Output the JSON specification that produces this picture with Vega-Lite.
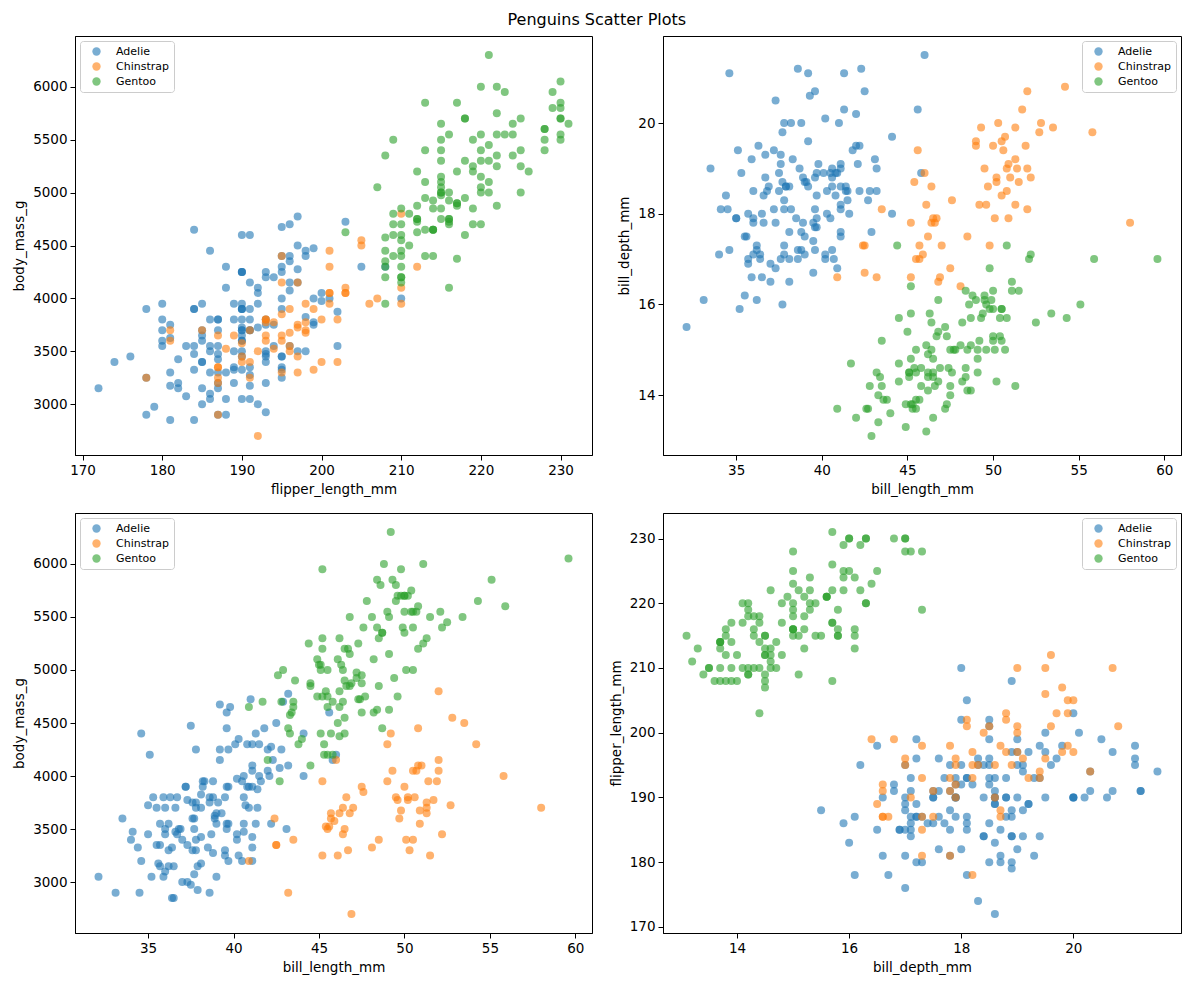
{
  "$schema": "https://vega.github.io/schema/vega-lite/v6.json",
  "background": "white",
  "padding": {"left": 12, "top": 11, "right": 2, "bottom": 2},
  "title": {"text": "Penguins Scatter Plots", "anchor": "middle", "fontSize": 16, "fontWeight": "normal", "font": "DejaVu Sans", "color": "black", "offset": 8},
  "datasets": {
    "penguins": [
      {"species":"Adelie","bill_length_mm":39.1,"bill_depth_mm":18.7,"flipper_length_mm":181,"body_mass_g":3750},
      {"species":"Adelie","bill_length_mm":39.5,"bill_depth_mm":17.4,"flipper_length_mm":186,"body_mass_g":3800},
      {"species":"Adelie","bill_length_mm":40.3,"bill_depth_mm":18.0,"flipper_length_mm":195,"body_mass_g":3250},
      {"species":"Adelie","bill_length_mm":36.7,"bill_depth_mm":19.3,"flipper_length_mm":193,"body_mass_g":3450},
      {"species":"Adelie","bill_length_mm":39.3,"bill_depth_mm":20.6,"flipper_length_mm":190,"body_mass_g":3650},
      {"species":"Adelie","bill_length_mm":38.9,"bill_depth_mm":17.8,"flipper_length_mm":181,"body_mass_g":3625},
      {"species":"Adelie","bill_length_mm":39.2,"bill_depth_mm":19.6,"flipper_length_mm":195,"body_mass_g":4675},
      {"species":"Adelie","bill_length_mm":34.1,"bill_depth_mm":18.1,"flipper_length_mm":193,"body_mass_g":3475},
      {"species":"Adelie","bill_length_mm":42.0,"bill_depth_mm":20.2,"flipper_length_mm":190,"body_mass_g":4250},
      {"species":"Adelie","bill_length_mm":37.8,"bill_depth_mm":17.1,"flipper_length_mm":186,"body_mass_g":3300},
      {"species":"Adelie","bill_length_mm":37.8,"bill_depth_mm":17.3,"flipper_length_mm":180,"body_mass_g":3700},
      {"species":"Adelie","bill_length_mm":41.1,"bill_depth_mm":17.6,"flipper_length_mm":182,"body_mass_g":3200},
      {"species":"Adelie","bill_length_mm":38.6,"bill_depth_mm":21.2,"flipper_length_mm":191,"body_mass_g":3800},
      {"species":"Adelie","bill_length_mm":34.6,"bill_depth_mm":21.1,"flipper_length_mm":198,"body_mass_g":4400},
      {"species":"Adelie","bill_length_mm":36.6,"bill_depth_mm":17.8,"flipper_length_mm":185,"body_mass_g":3700},
      {"species":"Adelie","bill_length_mm":38.7,"bill_depth_mm":19.0,"flipper_length_mm":195,"body_mass_g":3450},
      {"species":"Adelie","bill_length_mm":42.5,"bill_depth_mm":20.7,"flipper_length_mm":197,"body_mass_g":4500},
      {"species":"Adelie","bill_length_mm":34.4,"bill_depth_mm":18.4,"flipper_length_mm":184,"body_mass_g":3325},
      {"species":"Adelie","bill_length_mm":46.0,"bill_depth_mm":21.5,"flipper_length_mm":194,"body_mass_g":4200},
      {"species":"Adelie","bill_length_mm":37.8,"bill_depth_mm":18.3,"flipper_length_mm":174,"body_mass_g":3400},
      {"species":"Adelie","bill_length_mm":37.7,"bill_depth_mm":18.7,"flipper_length_mm":180,"body_mass_g":3600},
      {"species":"Adelie","bill_length_mm":35.9,"bill_depth_mm":19.2,"flipper_length_mm":189,"body_mass_g":3800},
      {"species":"Adelie","bill_length_mm":38.2,"bill_depth_mm":18.1,"flipper_length_mm":185,"body_mass_g":3950},
      {"species":"Adelie","bill_length_mm":38.8,"bill_depth_mm":17.2,"flipper_length_mm":180,"body_mass_g":3800},
      {"species":"Adelie","bill_length_mm":35.3,"bill_depth_mm":18.9,"flipper_length_mm":187,"body_mass_g":3800},
      {"species":"Adelie","bill_length_mm":40.6,"bill_depth_mm":18.6,"flipper_length_mm":183,"body_mass_g":3550},
      {"species":"Adelie","bill_length_mm":40.5,"bill_depth_mm":17.9,"flipper_length_mm":187,"body_mass_g":3200},
      {"species":"Adelie","bill_length_mm":37.9,"bill_depth_mm":18.6,"flipper_length_mm":172,"body_mass_g":3150},
      {"species":"Adelie","bill_length_mm":40.5,"bill_depth_mm":18.9,"flipper_length_mm":180,"body_mass_g":3950},
      {"species":"Adelie","bill_length_mm":39.5,"bill_depth_mm":16.7,"flipper_length_mm":178,"body_mass_g":3250},
      {"species":"Adelie","bill_length_mm":37.2,"bill_depth_mm":18.1,"flipper_length_mm":178,"body_mass_g":3900},
      {"species":"Adelie","bill_length_mm":39.5,"bill_depth_mm":17.8,"flipper_length_mm":188,"body_mass_g":3300},
      {"species":"Adelie","bill_length_mm":40.9,"bill_depth_mm":18.9,"flipper_length_mm":184,"body_mass_g":3900},
      {"species":"Adelie","bill_length_mm":36.4,"bill_depth_mm":17.0,"flipper_length_mm":195,"body_mass_g":3325},
      {"species":"Adelie","bill_length_mm":39.2,"bill_depth_mm":21.1,"flipper_length_mm":196,"body_mass_g":4150},
      {"species":"Adelie","bill_length_mm":38.8,"bill_depth_mm":20.0,"flipper_length_mm":190,"body_mass_g":3950},
      {"species":"Adelie","bill_length_mm":42.2,"bill_depth_mm":18.5,"flipper_length_mm":180,"body_mass_g":3550},
      {"species":"Adelie","bill_length_mm":37.6,"bill_depth_mm":19.3,"flipper_length_mm":181,"body_mass_g":3300},
      {"species":"Adelie","bill_length_mm":39.8,"bill_depth_mm":19.1,"flipper_length_mm":184,"body_mass_g":4650},
      {"species":"Adelie","bill_length_mm":36.5,"bill_depth_mm":18.0,"flipper_length_mm":182,"body_mass_g":3150},
      {"species":"Adelie","bill_length_mm":40.8,"bill_depth_mm":18.4,"flipper_length_mm":195,"body_mass_g":3900},
      {"species":"Adelie","bill_length_mm":36.0,"bill_depth_mm":18.5,"flipper_length_mm":186,"body_mass_g":3100},
      {"species":"Adelie","bill_length_mm":44.1,"bill_depth_mm":19.7,"flipper_length_mm":196,"body_mass_g":4400},
      {"species":"Adelie","bill_length_mm":37.0,"bill_depth_mm":16.9,"flipper_length_mm":185,"body_mass_g":3000},
      {"species":"Adelie","bill_length_mm":39.6,"bill_depth_mm":18.8,"flipper_length_mm":190,"body_mass_g":4600},
      {"species":"Adelie","bill_length_mm":41.1,"bill_depth_mm":19.0,"flipper_length_mm":182,"body_mass_g":3425},
      {"species":"Adelie","bill_length_mm":37.5,"bill_depth_mm":18.9,"flipper_length_mm":179,"body_mass_g":2975},
      {"species":"Adelie","bill_length_mm":36.0,"bill_depth_mm":17.9,"flipper_length_mm":190,"body_mass_g":3500},
      {"species":"Adelie","bill_length_mm":42.3,"bill_depth_mm":21.2,"flipper_length_mm":191,"body_mass_g":4150},
      {"species":"Adelie","bill_length_mm":39.6,"bill_depth_mm":17.7,"flipper_length_mm":186,"body_mass_g":3500},
      {"species":"Adelie","bill_length_mm":40.1,"bill_depth_mm":18.9,"flipper_length_mm":188,"body_mass_g":4300},
      {"species":"Adelie","bill_length_mm":35.0,"bill_depth_mm":17.9,"flipper_length_mm":190,"body_mass_g":3450},
      {"species":"Adelie","bill_length_mm":42.0,"bill_depth_mm":19.5,"flipper_length_mm":200,"body_mass_g":4050},
      {"species":"Adelie","bill_length_mm":34.5,"bill_depth_mm":18.1,"flipper_length_mm":187,"body_mass_g":2900},
      {"species":"Adelie","bill_length_mm":41.4,"bill_depth_mm":18.6,"flipper_length_mm":191,"body_mass_g":3700},
      {"species":"Adelie","bill_length_mm":39.0,"bill_depth_mm":17.5,"flipper_length_mm":186,"body_mass_g":3550},
      {"species":"Adelie","bill_length_mm":40.6,"bill_depth_mm":18.8,"flipper_length_mm":193,"body_mass_g":3800},
      {"species":"Adelie","bill_length_mm":36.5,"bill_depth_mm":16.6,"flipper_length_mm":181,"body_mass_g":2850},
      {"species":"Adelie","bill_length_mm":37.6,"bill_depth_mm":19.1,"flipper_length_mm":194,"body_mass_g":3750},
      {"species":"Adelie","bill_length_mm":35.7,"bill_depth_mm":16.9,"flipper_length_mm":185,"body_mass_g":3150},
      {"species":"Adelie","bill_length_mm":41.3,"bill_depth_mm":21.1,"flipper_length_mm":195,"body_mass_g":4400},
      {"species":"Adelie","bill_length_mm":37.6,"bill_depth_mm":17.0,"flipper_length_mm":185,"body_mass_g":3600},
      {"species":"Adelie","bill_length_mm":41.1,"bill_depth_mm":18.2,"flipper_length_mm":192,"body_mass_g":4050},
      {"species":"Adelie","bill_length_mm":36.4,"bill_depth_mm":17.1,"flipper_length_mm":184,"body_mass_g":2850},
      {"species":"Adelie","bill_length_mm":41.6,"bill_depth_mm":18.0,"flipper_length_mm":192,"body_mass_g":3950},
      {"species":"Adelie","bill_length_mm":35.5,"bill_depth_mm":16.2,"flipper_length_mm":195,"body_mass_g":3350},
      {"species":"Adelie","bill_length_mm":41.1,"bill_depth_mm":19.1,"flipper_length_mm":188,"body_mass_g":4100},
      {"species":"Adelie","bill_length_mm":35.9,"bill_depth_mm":16.6,"flipper_length_mm":190,"body_mass_g":3050},
      {"species":"Adelie","bill_length_mm":41.8,"bill_depth_mm":19.4,"flipper_length_mm":198,"body_mass_g":4450},
      {"species":"Adelie","bill_length_mm":33.5,"bill_depth_mm":19.0,"flipper_length_mm":190,"body_mass_g":3600},
      {"species":"Adelie","bill_length_mm":39.7,"bill_depth_mm":18.4,"flipper_length_mm":190,"body_mass_g":3900},
      {"species":"Adelie","bill_length_mm":39.6,"bill_depth_mm":17.2,"flipper_length_mm":196,"body_mass_g":3550},
      {"species":"Adelie","bill_length_mm":45.8,"bill_depth_mm":18.9,"flipper_length_mm":197,"body_mass_g":4150},
      {"species":"Adelie","bill_length_mm":35.5,"bill_depth_mm":17.5,"flipper_length_mm":190,"body_mass_g":3700},
      {"species":"Adelie","bill_length_mm":42.8,"bill_depth_mm":18.5,"flipper_length_mm":195,"body_mass_g":4250},
      {"species":"Adelie","bill_length_mm":40.9,"bill_depth_mm":16.8,"flipper_length_mm":191,"body_mass_g":3700},
      {"species":"Adelie","bill_length_mm":37.2,"bill_depth_mm":19.4,"flipper_length_mm":184,"body_mass_g":3900},
      {"species":"Adelie","bill_length_mm":36.2,"bill_depth_mm":16.1,"flipper_length_mm":187,"body_mass_g":3550},
      {"species":"Adelie","bill_length_mm":42.1,"bill_depth_mm":19.1,"flipper_length_mm":195,"body_mass_g":4000},
      {"species":"Adelie","bill_length_mm":34.6,"bill_depth_mm":17.2,"flipper_length_mm":189,"body_mass_g":3200},
      {"species":"Adelie","bill_length_mm":42.9,"bill_depth_mm":17.6,"flipper_length_mm":196,"body_mass_g":4700},
      {"species":"Adelie","bill_length_mm":36.7,"bill_depth_mm":18.8,"flipper_length_mm":187,"body_mass_g":3800},
      {"species":"Adelie","bill_length_mm":35.1,"bill_depth_mm":19.4,"flipper_length_mm":193,"body_mass_g":4200},
      {"species":"Adelie","bill_length_mm":37.3,"bill_depth_mm":17.8,"flipper_length_mm":191,"body_mass_g":3350},
      {"species":"Adelie","bill_length_mm":41.3,"bill_depth_mm":20.3,"flipper_length_mm":194,"body_mass_g":3550},
      {"species":"Adelie","bill_length_mm":36.3,"bill_depth_mm":19.5,"flipper_length_mm":190,"body_mass_g":3800},
      {"species":"Adelie","bill_length_mm":36.9,"bill_depth_mm":18.6,"flipper_length_mm":189,"body_mass_g":3500},
      {"species":"Adelie","bill_length_mm":38.3,"bill_depth_mm":19.2,"flipper_length_mm":189,"body_mass_g":3950},
      {"species":"Adelie","bill_length_mm":38.9,"bill_depth_mm":18.8,"flipper_length_mm":190,"body_mass_g":3600},
      {"species":"Adelie","bill_length_mm":35.7,"bill_depth_mm":18.0,"flipper_length_mm":202,"body_mass_g":3550},
      {"species":"Adelie","bill_length_mm":41.1,"bill_depth_mm":18.1,"flipper_length_mm":205,"body_mass_g":4300},
      {"species":"Adelie","bill_length_mm":34.0,"bill_depth_mm":17.1,"flipper_length_mm":185,"body_mass_g":3400},
      {"species":"Adelie","bill_length_mm":39.6,"bill_depth_mm":18.1,"flipper_length_mm":186,"body_mass_g":4450},
      {"species":"Adelie","bill_length_mm":36.2,"bill_depth_mm":17.3,"flipper_length_mm":187,"body_mass_g":3300},
      {"species":"Adelie","bill_length_mm":40.8,"bill_depth_mm":18.9,"flipper_length_mm":208,"body_mass_g":4300},
      {"species":"Adelie","bill_length_mm":38.1,"bill_depth_mm":18.6,"flipper_length_mm":190,"body_mass_g":3700},
      {"species":"Adelie","bill_length_mm":40.3,"bill_depth_mm":18.5,"flipper_length_mm":196,"body_mass_g":4350},
      {"species":"Adelie","bill_length_mm":33.1,"bill_depth_mm":16.1,"flipper_length_mm":178,"body_mass_g":2900},
      {"species":"Adelie","bill_length_mm":43.2,"bill_depth_mm":18.5,"flipper_length_mm":192,"body_mass_g":4100},
      {"species":"Adelie","bill_length_mm":35.0,"bill_depth_mm":17.9,"flipper_length_mm":192,"body_mass_g":3725},
      {"species":"Adelie","bill_length_mm":41.0,"bill_depth_mm":20.0,"flipper_length_mm":203,"body_mass_g":4725},
      {"species":"Adelie","bill_length_mm":37.7,"bill_depth_mm":16.0,"flipper_length_mm":183,"body_mass_g":3075},
      {"species":"Adelie","bill_length_mm":37.8,"bill_depth_mm":20.0,"flipper_length_mm":190,"body_mass_g":4250},
      {"species":"Adelie","bill_length_mm":37.9,"bill_depth_mm":18.6,"flipper_length_mm":193,"body_mass_g":2925},
      {"species":"Adelie","bill_length_mm":39.7,"bill_depth_mm":18.9,"flipper_length_mm":184,"body_mass_g":3550},
      {"species":"Adelie","bill_length_mm":38.6,"bill_depth_mm":17.2,"flipper_length_mm":199,"body_mass_g":3750},
      {"species":"Adelie","bill_length_mm":38.2,"bill_depth_mm":20.0,"flipper_length_mm":190,"body_mass_g":3900},
      {"species":"Adelie","bill_length_mm":38.1,"bill_depth_mm":17.0,"flipper_length_mm":181,"body_mass_g":3175},
      {"species":"Adelie","bill_length_mm":43.2,"bill_depth_mm":19.0,"flipper_length_mm":197,"body_mass_g":4775},
      {"species":"Adelie","bill_length_mm":38.1,"bill_depth_mm":16.5,"flipper_length_mm":198,"body_mass_g":3825},
      {"species":"Adelie","bill_length_mm":45.6,"bill_depth_mm":20.3,"flipper_length_mm":191,"body_mass_g":4600},
      {"species":"Adelie","bill_length_mm":39.7,"bill_depth_mm":17.7,"flipper_length_mm":193,"body_mass_g":3200},
      {"species":"Adelie","bill_length_mm":42.2,"bill_depth_mm":19.5,"flipper_length_mm":197,"body_mass_g":4275},
      {"species":"Adelie","bill_length_mm":39.6,"bill_depth_mm":20.7,"flipper_length_mm":191,"body_mass_g":3900},
      {"species":"Adelie","bill_length_mm":42.7,"bill_depth_mm":18.3,"flipper_length_mm":196,"body_mass_g":4075},
      {"species":"Adelie","bill_length_mm":38.6,"bill_depth_mm":17.0,"flipper_length_mm":188,"body_mass_g":2900},
      {"species":"Adelie","bill_length_mm":37.3,"bill_depth_mm":20.5,"flipper_length_mm":199,"body_mass_g":3775},
      {"species":"Adelie","bill_length_mm":35.7,"bill_depth_mm":17.0,"flipper_length_mm":189,"body_mass_g":3350},
      {"species":"Adelie","bill_length_mm":41.1,"bill_depth_mm":18.6,"flipper_length_mm":189,"body_mass_g":3325},
      {"species":"Adelie","bill_length_mm":36.2,"bill_depth_mm":17.2,"flipper_length_mm":187,"body_mass_g":3150},
      {"species":"Adelie","bill_length_mm":37.7,"bill_depth_mm":19.8,"flipper_length_mm":198,"body_mass_g":3500},
      {"species":"Adelie","bill_length_mm":40.2,"bill_depth_mm":17.0,"flipper_length_mm":176,"body_mass_g":3450},
      {"species":"Adelie","bill_length_mm":41.4,"bill_depth_mm":18.5,"flipper_length_mm":202,"body_mass_g":3875},
      {"species":"Adelie","bill_length_mm":35.2,"bill_depth_mm":15.9,"flipper_length_mm":186,"body_mass_g":3050},
      {"species":"Adelie","bill_length_mm":40.6,"bill_depth_mm":19.0,"flipper_length_mm":199,"body_mass_g":4000},
      {"species":"Adelie","bill_length_mm":38.8,"bill_depth_mm":17.6,"flipper_length_mm":191,"body_mass_g":3275},
      {"species":"Adelie","bill_length_mm":41.5,"bill_depth_mm":18.3,"flipper_length_mm":195,"body_mass_g":4300},
      {"species":"Adelie","bill_length_mm":39.0,"bill_depth_mm":17.1,"flipper_length_mm":191,"body_mass_g":3050},
      {"species":"Adelie","bill_length_mm":44.1,"bill_depth_mm":18.0,"flipper_length_mm":210,"body_mass_g":4000},
      {"species":"Adelie","bill_length_mm":38.5,"bill_depth_mm":17.9,"flipper_length_mm":190,"body_mass_g":3325},
      {"species":"Adelie","bill_length_mm":43.1,"bill_depth_mm":19.2,"flipper_length_mm":197,"body_mass_g":3500},
      {"species":"Adelie","bill_length_mm":36.8,"bill_depth_mm":18.5,"flipper_length_mm":193,"body_mass_g":3500},
      {"species":"Adelie","bill_length_mm":37.5,"bill_depth_mm":18.5,"flipper_length_mm":199,"body_mass_g":4475},
      {"species":"Adelie","bill_length_mm":38.1,"bill_depth_mm":17.6,"flipper_length_mm":187,"body_mass_g":3425},
      {"species":"Adelie","bill_length_mm":41.1,"bill_depth_mm":17.5,"flipper_length_mm":190,"body_mass_g":3900},
      {"species":"Adelie","bill_length_mm":35.6,"bill_depth_mm":17.5,"flipper_length_mm":191,"body_mass_g":3175},
      {"species":"Adelie","bill_length_mm":40.2,"bill_depth_mm":20.1,"flipper_length_mm":200,"body_mass_g":3975},
      {"species":"Adelie","bill_length_mm":37.0,"bill_depth_mm":16.5,"flipper_length_mm":185,"body_mass_g":3400},
      {"species":"Adelie","bill_length_mm":39.7,"bill_depth_mm":17.9,"flipper_length_mm":193,"body_mass_g":4250},
      {"species":"Adelie","bill_length_mm":40.2,"bill_depth_mm":17.1,"flipper_length_mm":193,"body_mass_g":3400},
      {"species":"Adelie","bill_length_mm":40.6,"bill_depth_mm":17.2,"flipper_length_mm":187,"body_mass_g":3475},
      {"species":"Adelie","bill_length_mm":32.1,"bill_depth_mm":15.5,"flipper_length_mm":188,"body_mass_g":3050},
      {"species":"Adelie","bill_length_mm":40.7,"bill_depth_mm":17.0,"flipper_length_mm":190,"body_mass_g":3725},
      {"species":"Adelie","bill_length_mm":37.3,"bill_depth_mm":16.8,"flipper_length_mm":192,"body_mass_g":3000},
      {"species":"Adelie","bill_length_mm":39.0,"bill_depth_mm":18.7,"flipper_length_mm":185,"body_mass_g":3650},
      {"species":"Adelie","bill_length_mm":39.2,"bill_depth_mm":18.6,"flipper_length_mm":190,"body_mass_g":4250},
      {"species":"Adelie","bill_length_mm":36.6,"bill_depth_mm":18.4,"flipper_length_mm":184,"body_mass_g":3475},
      {"species":"Adelie","bill_length_mm":36.0,"bill_depth_mm":17.8,"flipper_length_mm":195,"body_mass_g":3450},
      {"species":"Adelie","bill_length_mm":37.8,"bill_depth_mm":18.1,"flipper_length_mm":193,"body_mass_g":3750},
      {"species":"Adelie","bill_length_mm":36.0,"bill_depth_mm":17.1,"flipper_length_mm":187,"body_mass_g":3700},
      {"species":"Adelie","bill_length_mm":41.5,"bill_depth_mm":18.5,"flipper_length_mm":201,"body_mass_g":4000},
      {"species":"Chinstrap","bill_length_mm":46.5,"bill_depth_mm":17.9,"flipper_length_mm":192,"body_mass_g":3500},
      {"species":"Chinstrap","bill_length_mm":50.0,"bill_depth_mm":19.5,"flipper_length_mm":196,"body_mass_g":3900},
      {"species":"Chinstrap","bill_length_mm":51.3,"bill_depth_mm":19.2,"flipper_length_mm":193,"body_mass_g":3650},
      {"species":"Chinstrap","bill_length_mm":45.4,"bill_depth_mm":18.7,"flipper_length_mm":188,"body_mass_g":3525},
      {"species":"Chinstrap","bill_length_mm":52.7,"bill_depth_mm":19.8,"flipper_length_mm":197,"body_mass_g":3725},
      {"species":"Chinstrap","bill_length_mm":45.2,"bill_depth_mm":17.8,"flipper_length_mm":198,"body_mass_g":3950},
      {"species":"Chinstrap","bill_length_mm":46.1,"bill_depth_mm":18.2,"flipper_length_mm":178,"body_mass_g":3250},
      {"species":"Chinstrap","bill_length_mm":51.3,"bill_depth_mm":18.2,"flipper_length_mm":197,"body_mass_g":3750},
      {"species":"Chinstrap","bill_length_mm":46.0,"bill_depth_mm":18.9,"flipper_length_mm":195,"body_mass_g":4150},
      {"species":"Chinstrap","bill_length_mm":51.3,"bill_depth_mm":19.9,"flipper_length_mm":198,"body_mass_g":3700},
      {"species":"Chinstrap","bill_length_mm":46.6,"bill_depth_mm":17.8,"flipper_length_mm":193,"body_mass_g":3800},
      {"species":"Chinstrap","bill_length_mm":51.7,"bill_depth_mm":20.3,"flipper_length_mm":194,"body_mass_g":3775},
      {"species":"Chinstrap","bill_length_mm":47.0,"bill_depth_mm":17.3,"flipper_length_mm":185,"body_mass_g":3700},
      {"species":"Chinstrap","bill_length_mm":52.0,"bill_depth_mm":18.1,"flipper_length_mm":201,"body_mass_g":4050},
      {"species":"Chinstrap","bill_length_mm":45.9,"bill_depth_mm":17.1,"flipper_length_mm":190,"body_mass_g":3575},
      {"species":"Chinstrap","bill_length_mm":50.5,"bill_depth_mm":19.6,"flipper_length_mm":201,"body_mass_g":4050},
      {"species":"Chinstrap","bill_length_mm":50.3,"bill_depth_mm":20.0,"flipper_length_mm":197,"body_mass_g":3300},
      {"species":"Chinstrap","bill_length_mm":58.0,"bill_depth_mm":17.8,"flipper_length_mm":181,"body_mass_g":3700},
      {"species":"Chinstrap","bill_length_mm":46.4,"bill_depth_mm":18.6,"flipper_length_mm":190,"body_mass_g":3450},
      {"species":"Chinstrap","bill_length_mm":49.2,"bill_depth_mm":18.2,"flipper_length_mm":195,"body_mass_g":4400},
      {"species":"Chinstrap","bill_length_mm":42.4,"bill_depth_mm":17.3,"flipper_length_mm":181,"body_mass_g":3600},
      {"species":"Chinstrap","bill_length_mm":48.5,"bill_depth_mm":17.5,"flipper_length_mm":191,"body_mass_g":3400},
      {"species":"Chinstrap","bill_length_mm":43.2,"bill_depth_mm":16.6,"flipper_length_mm":187,"body_mass_g":2900},
      {"species":"Chinstrap","bill_length_mm":50.6,"bill_depth_mm":19.4,"flipper_length_mm":193,"body_mass_g":3800},
      {"species":"Chinstrap","bill_length_mm":46.7,"bill_depth_mm":17.9,"flipper_length_mm":195,"body_mass_g":3300},
      {"species":"Chinstrap","bill_length_mm":52.0,"bill_depth_mm":19.0,"flipper_length_mm":197,"body_mass_g":4150},
      {"species":"Chinstrap","bill_length_mm":50.5,"bill_depth_mm":18.4,"flipper_length_mm":200,"body_mass_g":3400},
      {"species":"Chinstrap","bill_length_mm":49.5,"bill_depth_mm":19.0,"flipper_length_mm":200,"body_mass_g":3800},
      {"species":"Chinstrap","bill_length_mm":46.4,"bill_depth_mm":17.8,"flipper_length_mm":191,"body_mass_g":3700},
      {"species":"Chinstrap","bill_length_mm":52.8,"bill_depth_mm":20.0,"flipper_length_mm":205,"body_mass_g":4550},
      {"species":"Chinstrap","bill_length_mm":40.9,"bill_depth_mm":16.6,"flipper_length_mm":187,"body_mass_g":3200},
      {"species":"Chinstrap","bill_length_mm":54.2,"bill_depth_mm":20.8,"flipper_length_mm":201,"body_mass_g":4300},
      {"species":"Chinstrap","bill_length_mm":42.5,"bill_depth_mm":16.7,"flipper_length_mm":187,"body_mass_g":3350},
      {"species":"Chinstrap","bill_length_mm":51.0,"bill_depth_mm":18.8,"flipper_length_mm":203,"body_mass_g":4100},
      {"species":"Chinstrap","bill_length_mm":49.7,"bill_depth_mm":18.6,"flipper_length_mm":195,"body_mass_g":3600},
      {"species":"Chinstrap","bill_length_mm":47.5,"bill_depth_mm":16.8,"flipper_length_mm":199,"body_mass_g":3900},
      {"species":"Chinstrap","bill_length_mm":47.6,"bill_depth_mm":18.3,"flipper_length_mm":195,"body_mass_g":3850},
      {"species":"Chinstrap","bill_length_mm":52.0,"bill_depth_mm":20.7,"flipper_length_mm":210,"body_mass_g":4800},
      {"species":"Chinstrap","bill_length_mm":46.9,"bill_depth_mm":16.6,"flipper_length_mm":192,"body_mass_g":2700},
      {"species":"Chinstrap","bill_length_mm":53.5,"bill_depth_mm":19.9,"flipper_length_mm":205,"body_mass_g":4500},
      {"species":"Chinstrap","bill_length_mm":49.0,"bill_depth_mm":19.5,"flipper_length_mm":210,"body_mass_g":3950},
      {"species":"Chinstrap","bill_length_mm":46.2,"bill_depth_mm":17.5,"flipper_length_mm":187,"body_mass_g":3650},
      {"species":"Chinstrap","bill_length_mm":50.9,"bill_depth_mm":19.1,"flipper_length_mm":196,"body_mass_g":3550},
      {"species":"Chinstrap","bill_length_mm":45.5,"bill_depth_mm":17.0,"flipper_length_mm":196,"body_mass_g":3500},
      {"species":"Chinstrap","bill_length_mm":50.9,"bill_depth_mm":17.9,"flipper_length_mm":196,"body_mass_g":3675},
      {"species":"Chinstrap","bill_length_mm":50.8,"bill_depth_mm":18.5,"flipper_length_mm":201,"body_mass_g":4450},
      {"species":"Chinstrap","bill_length_mm":50.1,"bill_depth_mm":17.9,"flipper_length_mm":190,"body_mass_g":3400},
      {"species":"Chinstrap","bill_length_mm":49.0,"bill_depth_mm":19.6,"flipper_length_mm":212,"body_mass_g":4300},
      {"species":"Chinstrap","bill_length_mm":51.5,"bill_depth_mm":18.7,"flipper_length_mm":187,"body_mass_g":3250},
      {"species":"Chinstrap","bill_length_mm":49.8,"bill_depth_mm":17.3,"flipper_length_mm":198,"body_mass_g":3675},
      {"species":"Chinstrap","bill_length_mm":48.1,"bill_depth_mm":16.4,"flipper_length_mm":199,"body_mass_g":3325},
      {"species":"Chinstrap","bill_length_mm":51.4,"bill_depth_mm":19.0,"flipper_length_mm":201,"body_mass_g":3950},
      {"species":"Chinstrap","bill_length_mm":45.7,"bill_depth_mm":17.3,"flipper_length_mm":193,"body_mass_g":3600},
      {"species":"Chinstrap","bill_length_mm":50.7,"bill_depth_mm":19.7,"flipper_length_mm":203,"body_mass_g":4050},
      {"species":"Chinstrap","bill_length_mm":42.5,"bill_depth_mm":17.3,"flipper_length_mm":187,"body_mass_g":3350},
      {"species":"Chinstrap","bill_length_mm":52.2,"bill_depth_mm":18.8,"flipper_length_mm":197,"body_mass_g":3450},
      {"species":"Chinstrap","bill_length_mm":45.2,"bill_depth_mm":16.6,"flipper_length_mm":191,"body_mass_g":3250},
      {"species":"Chinstrap","bill_length_mm":49.3,"bill_depth_mm":19.9,"flipper_length_mm":203,"body_mass_g":4050},
      {"species":"Chinstrap","bill_length_mm":50.2,"bill_depth_mm":18.8,"flipper_length_mm":202,"body_mass_g":3800},
      {"species":"Chinstrap","bill_length_mm":45.6,"bill_depth_mm":19.4,"flipper_length_mm":194,"body_mass_g":3525},
      {"species":"Chinstrap","bill_length_mm":51.9,"bill_depth_mm":19.5,"flipper_length_mm":206,"body_mass_g":3950},
      {"species":"Chinstrap","bill_length_mm":46.8,"bill_depth_mm":16.5,"flipper_length_mm":189,"body_mass_g":3650},
      {"species":"Chinstrap","bill_length_mm":45.7,"bill_depth_mm":17.0,"flipper_length_mm":195,"body_mass_g":3650},
      {"species":"Chinstrap","bill_length_mm":55.8,"bill_depth_mm":19.8,"flipper_length_mm":207,"body_mass_g":4000},
      {"species":"Chinstrap","bill_length_mm":43.5,"bill_depth_mm":18.1,"flipper_length_mm":202,"body_mass_g":3400},
      {"species":"Chinstrap","bill_length_mm":49.6,"bill_depth_mm":18.2,"flipper_length_mm":193,"body_mass_g":3775},
      {"species":"Chinstrap","bill_length_mm":50.8,"bill_depth_mm":19.0,"flipper_length_mm":210,"body_mass_g":4100},
      {"species":"Chinstrap","bill_length_mm":50.2,"bill_depth_mm":18.7,"flipper_length_mm":198,"body_mass_g":3775},
      {"species":"Gentoo","bill_length_mm":46.1,"bill_depth_mm":13.2,"flipper_length_mm":211,"body_mass_g":4500},
      {"species":"Gentoo","bill_length_mm":50.0,"bill_depth_mm":16.3,"flipper_length_mm":230,"body_mass_g":5700},
      {"species":"Gentoo","bill_length_mm":48.7,"bill_depth_mm":14.1,"flipper_length_mm":210,"body_mass_g":4450},
      {"species":"Gentoo","bill_length_mm":50.0,"bill_depth_mm":15.2,"flipper_length_mm":218,"body_mass_g":5700},
      {"species":"Gentoo","bill_length_mm":47.6,"bill_depth_mm":14.5,"flipper_length_mm":215,"body_mass_g":5400},
      {"species":"Gentoo","bill_length_mm":46.5,"bill_depth_mm":13.5,"flipper_length_mm":210,"body_mass_g":4550},
      {"species":"Gentoo","bill_length_mm":45.4,"bill_depth_mm":14.6,"flipper_length_mm":211,"body_mass_g":4800},
      {"species":"Gentoo","bill_length_mm":46.7,"bill_depth_mm":15.3,"flipper_length_mm":219,"body_mass_g":5200},
      {"species":"Gentoo","bill_length_mm":43.3,"bill_depth_mm":13.4,"flipper_length_mm":209,"body_mass_g":4400},
      {"species":"Gentoo","bill_length_mm":46.8,"bill_depth_mm":15.4,"flipper_length_mm":215,"body_mass_g":5150},
      {"species":"Gentoo","bill_length_mm":40.9,"bill_depth_mm":13.7,"flipper_length_mm":214,"body_mass_g":4650},
      {"species":"Gentoo","bill_length_mm":49.0,"bill_depth_mm":16.1,"flipper_length_mm":216,"body_mass_g":5550},
      {"species":"Gentoo","bill_length_mm":45.5,"bill_depth_mm":13.7,"flipper_length_mm":214,"body_mass_g":4650},
      {"species":"Gentoo","bill_length_mm":48.4,"bill_depth_mm":14.6,"flipper_length_mm":213,"body_mass_g":5850},
      {"species":"Gentoo","bill_length_mm":45.8,"bill_depth_mm":14.6,"flipper_length_mm":210,"body_mass_g":4200},
      {"species":"Gentoo","bill_length_mm":49.3,"bill_depth_mm":15.7,"flipper_length_mm":217,"body_mass_g":5850},
      {"species":"Gentoo","bill_length_mm":42.0,"bill_depth_mm":13.5,"flipper_length_mm":210,"body_mass_g":4150},
      {"species":"Gentoo","bill_length_mm":49.2,"bill_depth_mm":15.2,"flipper_length_mm":221,"body_mass_g":6300},
      {"species":"Gentoo","bill_length_mm":46.2,"bill_depth_mm":14.5,"flipper_length_mm":209,"body_mass_g":4800},
      {"species":"Gentoo","bill_length_mm":48.7,"bill_depth_mm":15.1,"flipper_length_mm":222,"body_mass_g":5350},
      {"species":"Gentoo","bill_length_mm":50.2,"bill_depth_mm":14.3,"flipper_length_mm":218,"body_mass_g":5700},
      {"species":"Gentoo","bill_length_mm":45.1,"bill_depth_mm":14.5,"flipper_length_mm":215,"body_mass_g":5000},
      {"species":"Gentoo","bill_length_mm":46.5,"bill_depth_mm":14.5,"flipper_length_mm":213,"body_mass_g":4400},
      {"species":"Gentoo","bill_length_mm":46.3,"bill_depth_mm":15.8,"flipper_length_mm":215,"body_mass_g":5050},
      {"species":"Gentoo","bill_length_mm":42.9,"bill_depth_mm":13.1,"flipper_length_mm":215,"body_mass_g":5000},
      {"species":"Gentoo","bill_length_mm":46.1,"bill_depth_mm":15.1,"flipper_length_mm":215,"body_mass_g":5100},
      {"species":"Gentoo","bill_length_mm":44.5,"bill_depth_mm":14.3,"flipper_length_mm":216,"body_mass_g":4100},
      {"species":"Gentoo","bill_length_mm":47.8,"bill_depth_mm":15.0,"flipper_length_mm":215,"body_mass_g":5650},
      {"species":"Gentoo","bill_length_mm":48.2,"bill_depth_mm":14.3,"flipper_length_mm":210,"body_mass_g":4600},
      {"species":"Gentoo","bill_length_mm":50.0,"bill_depth_mm":15.3,"flipper_length_mm":220,"body_mass_g":5550},
      {"species":"Gentoo","bill_length_mm":47.3,"bill_depth_mm":15.3,"flipper_length_mm":222,"body_mass_g":5250},
      {"species":"Gentoo","bill_length_mm":42.8,"bill_depth_mm":14.2,"flipper_length_mm":209,"body_mass_g":4700},
      {"species":"Gentoo","bill_length_mm":45.1,"bill_depth_mm":14.5,"flipper_length_mm":207,"body_mass_g":5050},
      {"species":"Gentoo","bill_length_mm":59.6,"bill_depth_mm":17.0,"flipper_length_mm":230,"body_mass_g":6050},
      {"species":"Gentoo","bill_length_mm":49.1,"bill_depth_mm":14.8,"flipper_length_mm":220,"body_mass_g":5150},
      {"species":"Gentoo","bill_length_mm":48.4,"bill_depth_mm":16.3,"flipper_length_mm":220,"body_mass_g":5400},
      {"species":"Gentoo","bill_length_mm":42.6,"bill_depth_mm":13.7,"flipper_length_mm":213,"body_mass_g":4950},
      {"species":"Gentoo","bill_length_mm":44.4,"bill_depth_mm":17.3,"flipper_length_mm":219,"body_mass_g":5250},
      {"species":"Gentoo","bill_length_mm":44.0,"bill_depth_mm":13.6,"flipper_length_mm":208,"body_mass_g":4350},
      {"species":"Gentoo","bill_length_mm":48.7,"bill_depth_mm":15.7,"flipper_length_mm":208,"body_mass_g":5350},
      {"species":"Gentoo","bill_length_mm":42.7,"bill_depth_mm":13.7,"flipper_length_mm":208,"body_mass_g":3950},
      {"species":"Gentoo","bill_length_mm":49.6,"bill_depth_mm":16.0,"flipper_length_mm":225,"body_mass_g":5700},
      {"species":"Gentoo","bill_length_mm":45.3,"bill_depth_mm":13.7,"flipper_length_mm":210,"body_mass_g":4300},
      {"species":"Gentoo","bill_length_mm":49.6,"bill_depth_mm":15.0,"flipper_length_mm":216,"body_mass_g":4750},
      {"species":"Gentoo","bill_length_mm":50.5,"bill_depth_mm":15.9,"flipper_length_mm":222,"body_mass_g":5550},
      {"species":"Gentoo","bill_length_mm":43.6,"bill_depth_mm":13.9,"flipper_length_mm":217,"body_mass_g":4900},
      {"species":"Gentoo","bill_length_mm":45.5,"bill_depth_mm":13.9,"flipper_length_mm":210,"body_mass_g":4200},
      {"species":"Gentoo","bill_length_mm":50.5,"bill_depth_mm":15.9,"flipper_length_mm":225,"body_mass_g":5400},
      {"species":"Gentoo","bill_length_mm":44.9,"bill_depth_mm":13.3,"flipper_length_mm":213,"body_mass_g":5100},
      {"species":"Gentoo","bill_length_mm":45.2,"bill_depth_mm":15.8,"flipper_length_mm":215,"body_mass_g":5300},
      {"species":"Gentoo","bill_length_mm":46.6,"bill_depth_mm":14.2,"flipper_length_mm":210,"body_mass_g":4850},
      {"species":"Gentoo","bill_length_mm":48.5,"bill_depth_mm":14.1,"flipper_length_mm":220,"body_mass_g":5300},
      {"species":"Gentoo","bill_length_mm":45.1,"bill_depth_mm":14.4,"flipper_length_mm":210,"body_mass_g":4400},
      {"species":"Gentoo","bill_length_mm":50.1,"bill_depth_mm":15.0,"flipper_length_mm":225,"body_mass_g":5000},
      {"species":"Gentoo","bill_length_mm":46.5,"bill_depth_mm":14.4,"flipper_length_mm":217,"body_mass_g":4900},
      {"species":"Gentoo","bill_length_mm":45.0,"bill_depth_mm":15.4,"flipper_length_mm":220,"body_mass_g":5050},
      {"species":"Gentoo","bill_length_mm":43.8,"bill_depth_mm":13.9,"flipper_length_mm":208,"body_mass_g":4300},
      {"species":"Gentoo","bill_length_mm":45.5,"bill_depth_mm":15.0,"flipper_length_mm":220,"body_mass_g":5000},
      {"species":"Gentoo","bill_length_mm":43.2,"bill_depth_mm":14.5,"flipper_length_mm":208,"body_mass_g":4450},
      {"species":"Gentoo","bill_length_mm":50.4,"bill_depth_mm":15.3,"flipper_length_mm":224,"body_mass_g":5550},
      {"species":"Gentoo","bill_length_mm":45.3,"bill_depth_mm":13.8,"flipper_length_mm":208,"body_mass_g":4200},
      {"species":"Gentoo","bill_length_mm":46.2,"bill_depth_mm":14.9,"flipper_length_mm":221,"body_mass_g":5300},
      {"species":"Gentoo","bill_length_mm":45.7,"bill_depth_mm":13.9,"flipper_length_mm":214,"body_mass_g":4400},
      {"species":"Gentoo","bill_length_mm":54.3,"bill_depth_mm":15.7,"flipper_length_mm":231,"body_mass_g":5650},
      {"species":"Gentoo","bill_length_mm":45.8,"bill_depth_mm":14.2,"flipper_length_mm":219,"body_mass_g":4700},
      {"species":"Gentoo","bill_length_mm":49.8,"bill_depth_mm":16.8,"flipper_length_mm":230,"body_mass_g":5700},
      {"species":"Gentoo","bill_length_mm":46.2,"bill_depth_mm":14.4,"flipper_length_mm":214,"body_mass_g":4650},
      {"species":"Gentoo","bill_length_mm":49.5,"bill_depth_mm":16.2,"flipper_length_mm":229,"body_mass_g":5800},
      {"species":"Gentoo","bill_length_mm":43.5,"bill_depth_mm":14.2,"flipper_length_mm":220,"body_mass_g":4700},
      {"species":"Gentoo","bill_length_mm":50.7,"bill_depth_mm":15.0,"flipper_length_mm":223,"body_mass_g":5550},
      {"species":"Gentoo","bill_length_mm":47.7,"bill_depth_mm":15.0,"flipper_length_mm":216,"body_mass_g":4750},
      {"species":"Gentoo","bill_length_mm":46.4,"bill_depth_mm":15.6,"flipper_length_mm":221,"body_mass_g":5000},
      {"species":"Gentoo","bill_length_mm":48.2,"bill_depth_mm":15.6,"flipper_length_mm":221,"body_mass_g":5100},
      {"species":"Gentoo","bill_length_mm":46.5,"bill_depth_mm":14.8,"flipper_length_mm":217,"body_mass_g":5200},
      {"species":"Gentoo","bill_length_mm":46.4,"bill_depth_mm":15.0,"flipper_length_mm":216,"body_mass_g":4700},
      {"species":"Gentoo","bill_length_mm":48.6,"bill_depth_mm":16.0,"flipper_length_mm":230,"body_mass_g":5800},
      {"species":"Gentoo","bill_length_mm":47.5,"bill_depth_mm":14.2,"flipper_length_mm":209,"body_mass_g":4600},
      {"species":"Gentoo","bill_length_mm":51.1,"bill_depth_mm":16.3,"flipper_length_mm":220,"body_mass_g":6000},
      {"species":"Gentoo","bill_length_mm":45.2,"bill_depth_mm":13.8,"flipper_length_mm":215,"body_mass_g":4750},
      {"species":"Gentoo","bill_length_mm":45.2,"bill_depth_mm":16.4,"flipper_length_mm":223,"body_mass_g":5950},
      {"species":"Gentoo","bill_length_mm":49.1,"bill_depth_mm":14.5,"flipper_length_mm":212,"body_mass_g":4625},
      {"species":"Gentoo","bill_length_mm":52.5,"bill_depth_mm":15.6,"flipper_length_mm":221,"body_mass_g":5450},
      {"species":"Gentoo","bill_length_mm":47.4,"bill_depth_mm":14.6,"flipper_length_mm":212,"body_mass_g":4725},
      {"species":"Gentoo","bill_length_mm":50.0,"bill_depth_mm":15.9,"flipper_length_mm":224,"body_mass_g":5350},
      {"species":"Gentoo","bill_length_mm":44.9,"bill_depth_mm":13.8,"flipper_length_mm":212,"body_mass_g":4750},
      {"species":"Gentoo","bill_length_mm":50.8,"bill_depth_mm":17.3,"flipper_length_mm":228,"body_mass_g":5600},
      {"species":"Gentoo","bill_length_mm":43.4,"bill_depth_mm":14.4,"flipper_length_mm":218,"body_mass_g":4600},
      {"species":"Gentoo","bill_length_mm":51.3,"bill_depth_mm":14.2,"flipper_length_mm":218,"body_mass_g":5300},
      {"species":"Gentoo","bill_length_mm":47.5,"bill_depth_mm":14.0,"flipper_length_mm":212,"body_mass_g":4875},
      {"species":"Gentoo","bill_length_mm":52.1,"bill_depth_mm":17.0,"flipper_length_mm":230,"body_mass_g":5550},
      {"species":"Gentoo","bill_length_mm":47.5,"bill_depth_mm":15.0,"flipper_length_mm":218,"body_mass_g":4950},
      {"species":"Gentoo","bill_length_mm":52.2,"bill_depth_mm":17.1,"flipper_length_mm":228,"body_mass_g":5400},
      {"species":"Gentoo","bill_length_mm":45.5,"bill_depth_mm":14.5,"flipper_length_mm":212,"body_mass_g":4750},
      {"species":"Gentoo","bill_length_mm":49.5,"bill_depth_mm":16.1,"flipper_length_mm":224,"body_mass_g":5650},
      {"species":"Gentoo","bill_length_mm":44.5,"bill_depth_mm":14.7,"flipper_length_mm":214,"body_mass_g":4850},
      {"species":"Gentoo","bill_length_mm":50.8,"bill_depth_mm":15.7,"flipper_length_mm":226,"body_mass_g":5200},
      {"species":"Gentoo","bill_length_mm":49.4,"bill_depth_mm":15.8,"flipper_length_mm":216,"body_mass_g":4925},
      {"species":"Gentoo","bill_length_mm":46.9,"bill_depth_mm":14.6,"flipper_length_mm":222,"body_mass_g":4875},
      {"species":"Gentoo","bill_length_mm":48.4,"bill_depth_mm":14.4,"flipper_length_mm":203,"body_mass_g":4625},
      {"species":"Gentoo","bill_length_mm":51.1,"bill_depth_mm":16.5,"flipper_length_mm":225,"body_mass_g":5250},
      {"species":"Gentoo","bill_length_mm":48.5,"bill_depth_mm":15.0,"flipper_length_mm":219,"body_mass_g":4850},
      {"species":"Gentoo","bill_length_mm":55.9,"bill_depth_mm":17.0,"flipper_length_mm":228,"body_mass_g":5600},
      {"species":"Gentoo","bill_length_mm":47.2,"bill_depth_mm":15.5,"flipper_length_mm":215,"body_mass_g":4975},
      {"species":"Gentoo","bill_length_mm":49.1,"bill_depth_mm":15.0,"flipper_length_mm":228,"body_mass_g":5500},
      {"species":"Gentoo","bill_length_mm":47.3,"bill_depth_mm":13.8,"flipper_length_mm":216,"body_mass_g":4725},
      {"species":"Gentoo","bill_length_mm":46.8,"bill_depth_mm":16.1,"flipper_length_mm":215,"body_mass_g":5500},
      {"species":"Gentoo","bill_length_mm":41.7,"bill_depth_mm":14.7,"flipper_length_mm":210,"body_mass_g":4700},
      {"species":"Gentoo","bill_length_mm":53.4,"bill_depth_mm":15.8,"flipper_length_mm":219,"body_mass_g":5500},
      {"species":"Gentoo","bill_length_mm":43.3,"bill_depth_mm":14.0,"flipper_length_mm":208,"body_mass_g":4575},
      {"species":"Gentoo","bill_length_mm":48.1,"bill_depth_mm":15.1,"flipper_length_mm":209,"body_mass_g":5500},
      {"species":"Gentoo","bill_length_mm":50.5,"bill_depth_mm":15.2,"flipper_length_mm":216,"body_mass_g":5000},
      {"species":"Gentoo","bill_length_mm":49.8,"bill_depth_mm":15.9,"flipper_length_mm":229,"body_mass_g":5950},
      {"species":"Gentoo","bill_length_mm":43.5,"bill_depth_mm":15.2,"flipper_length_mm":213,"body_mass_g":4650},
      {"species":"Gentoo","bill_length_mm":51.5,"bill_depth_mm":16.3,"flipper_length_mm":230,"body_mass_g":5500},
      {"species":"Gentoo","bill_length_mm":46.2,"bill_depth_mm":14.1,"flipper_length_mm":217,"body_mass_g":4375},
      {"species":"Gentoo","bill_length_mm":55.1,"bill_depth_mm":16.0,"flipper_length_mm":230,"body_mass_g":5850},
      {"species":"Gentoo","bill_length_mm":44.5,"bill_depth_mm":15.7,"flipper_length_mm":217,"body_mass_g":4875},
      {"species":"Gentoo","bill_length_mm":48.8,"bill_depth_mm":16.2,"flipper_length_mm":222,"body_mass_g":6000},
      {"species":"Gentoo","bill_length_mm":47.2,"bill_depth_mm":13.7,"flipper_length_mm":214,"body_mass_g":4925},
      {"species":"Gentoo","bill_length_mm":46.8,"bill_depth_mm":14.3,"flipper_length_mm":215,"body_mass_g":4850},
      {"species":"Gentoo","bill_length_mm":50.4,"bill_depth_mm":15.7,"flipper_length_mm":222,"body_mass_g":5750},
      {"species":"Gentoo","bill_length_mm":45.2,"bill_depth_mm":14.8,"flipper_length_mm":212,"body_mass_g":5200},
      {"species":"Gentoo","bill_length_mm":49.9,"bill_depth_mm":16.1,"flipper_length_mm":213,"body_mass_g":5400}
    ]
  },
  "data": {"name": "penguins"},
  "columns": 2,
  "bounds": "flush",
  "spacing": {"row": 58, "column": 71},
  "resolve": {"scale": {"color": "independent"}},
  "concat": [
    {
      "width": 517,
      "height": 419,
      "mark": {"type": "point", "filled": true, "size": 64, "opacity": 0.6, "strokeWidth": 0},
      "encoding": {
        "x": {"field": "flipper_length_mm", "type": "quantitative", "scale": {"domain": [169.05, 233.95], "nice": false, "zero": false}, "axis": {"values": [170, 180, 190, 200, 210, 220, 230]}},
        "y": {"field": "body_mass_g", "type": "quantitative", "scale": {"domain": [2520, 6480], "nice": false, "zero": false}, "axis": {"values": [3000, 3500, 4000, 4500, 5000, 5500, 6000], "format": "d"}},
        "color": {"field": "species", "type": "nominal", "scale": {"domain": ["Adelie", "Chinstrap", "Gentoo"], "range": ["#1f77b4", "#ff7f0e", "#2ca02c"]}, "legend": {"orient": "top-left"}}
      }
    },
    {
      "width": 518,
      "height": 419,
      "mark": {"type": "point", "filled": true, "size": 64, "opacity": 0.6, "strokeWidth": 0},
      "encoding": {
        "x": {"field": "bill_length_mm", "type": "quantitative", "scale": {"domain": [30.725, 60.975], "nice": false, "zero": false}, "axis": {"values": [35, 40, 45, 50, 55, 60]}},
        "y": {"field": "bill_depth_mm", "type": "quantitative", "scale": {"domain": [12.68, 21.92], "nice": false, "zero": false}, "axis": {"values": [14, 16, 18, 20]}},
        "color": {"field": "species", "type": "nominal", "scale": {"domain": ["Adelie", "Chinstrap", "Gentoo"], "range": ["#1f77b4", "#ff7f0e", "#2ca02c"]}, "legend": {"orient": "top-right"}}
      }
    },
    {
      "width": 517,
      "height": 420,
      "mark": {"type": "point", "filled": true, "size": 64, "opacity": 0.6, "strokeWidth": 0},
      "encoding": {
        "x": {"field": "bill_length_mm", "type": "quantitative", "scale": {"domain": [30.725, 60.975], "nice": false, "zero": false}, "axis": {"values": [35, 40, 45, 50, 55, 60]}},
        "y": {"field": "body_mass_g", "type": "quantitative", "scale": {"domain": [2520, 6480], "nice": false, "zero": false}, "axis": {"values": [3000, 3500, 4000, 4500, 5000, 5500, 6000], "format": "d"}},
        "color": {"field": "species", "type": "nominal", "scale": {"domain": ["Adelie", "Chinstrap", "Gentoo"], "range": ["#1f77b4", "#ff7f0e", "#2ca02c"]}, "legend": {"orient": "top-left"}}
      }
    },
    {
      "width": 518,
      "height": 420,
      "mark": {"type": "point", "filled": true, "size": 64, "opacity": 0.6, "strokeWidth": 0},
      "encoding": {
        "x": {"field": "bill_depth_mm", "type": "quantitative", "scale": {"domain": [12.68, 21.92], "nice": false, "zero": false}, "axis": {"values": [14, 16, 18, 20]}},
        "y": {"field": "flipper_length_mm", "type": "quantitative", "scale": {"domain": [169.05, 233.95], "nice": false, "zero": false}, "axis": {"values": [170, 180, 190, 200, 210, 220, 230]}},
        "color": {"field": "species", "type": "nominal", "scale": {"domain": ["Adelie", "Chinstrap", "Gentoo"], "range": ["#1f77b4", "#ff7f0e", "#2ca02c"]}, "legend": {"orient": "top-right"}}
      }
    }
  ],
  "config": {
    "font": "DejaVu Sans",
    "view": {"stroke": "black", "strokeWidth": 1},
    "axis": {
      "grid": false,
      "domainColor": "black",
      "tickColor": "black",
      "tickSize": 5,
      "labelFontSize": 13.5,
      "titleFontSize": 13.5,
      "titleFontWeight": "normal",
      "labelColor": "black",
      "titleColor": "black",
      "labelPadding": 3,
      "titlePadding": 6
    },
    "legend": {
      "title": null,
      "offset": 5,
      "padding": 5,
      "strokeColor": "#cccccc",
      "fillColor": "white",
      "cornerRadius": 3,
      "labelFontSize": 11,
      "labelColor": "black",
      "symbolType": "circle",
      "symbolSize": 70,
      "symbolOpacity": 0.6,
      "symbolStrokeWidth": 0,
      "symbolOffset": 6,
      "rowPadding": 3,
      "labelOffset": 14
    }
  }
}
